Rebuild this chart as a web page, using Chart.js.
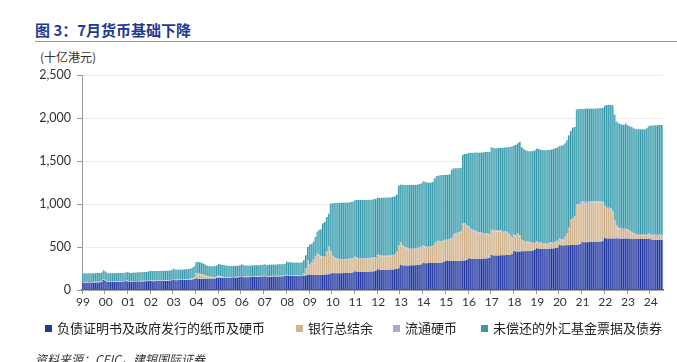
<!DOCTYPE html>
<html>
<head>
<meta charset="utf-8">
<script src="https://cdn.jsdelivr.net/npm/chart.js@4.4.1/dist/chart.umd.min.js"></script>
<style>
  body { margin: 0; background: #fff; font-family: "Noto Sans CJK SC", sans-serif; }
  #wrap { position: relative; width: 677px; height: 362px; overflow: hidden; }
  #title { position: absolute; left: 35px; top: 19px; font-size: 15px; font-weight: bold; color: #1d3a92; }
  #rule { position: absolute; left: 35px; right: 0; top: 41px; border-top: 1px solid #9297c9; }
  #unit { position: absolute; left: 40px; top: 48px; font-size: 12px; color: #333; }
  #legend { position: absolute; top: 319px; left: 0; width: 677px; height: 18px; font-size: 13px; color: #222; }
  #legend .item { position: absolute; top: 0; white-space: nowrap; line-height: 18px; }
  #legend .box { display: inline-block; width: 7px; height: 7px; margin-right: 5px; vertical-align: 1px; }
  #source { position: absolute; left: 35px; top: 350px; font-size: 12px; color: #333; font-style: italic; }
  canvas { position: absolute; left: 0; top: 0; }
</style>
</head>
<body>
<div id="wrap">
  <div id="title">图 3：7月货币基础下降</div>
  <div id="rule"></div>
  <div id="unit">(十亿港元)</div>
  <canvas id="baseChart" width="677" height="362"></canvas>
  <div id="legend"></div>
  <div id="source">资料来源：CEIC，建银国际证券</div>
</div>
<script>
// monthly data, Jan 1999 - Jul 2024 (HK$ bn)
const years = ["99","00","01","02","03","04","05","06","07","08","09","10","11","12",
  "13","14","15","16","17","18","19","20","21","22","23","24"];
const monthsInLastYear = 7;

const seriesNames = [
  "负债证明书及政府发行的纸币及硬币",
  "银行总结余",
  "流通硬币",
  "未偿还的外汇基金票据及债券"
];

const certificates = [
  86,85,85,86,86,86,87,87,88,90,94,116,
  104,97,96,96,96,96,97,97,97,98,99,104,
  100,97,97,98,98,99,99,100,100,101,102,108,
  106,103,103,104,104,105,105,106,106,107,108,113,
  122,114,114,115,115,116,116,117,118,119,121,128,
  136,130,130,131,131,132,132,132,133,133,134,140,
  146,141,141,142,142,143,143,144,144,145,146,151,
  156,148,148,149,149,150,150,150,151,152,153,158,
  160,154,154,155,155,156,156,157,157,158,159,163,
  168,162,162,162,163,163,164,164,165,166,170,176,
  180,174,174,175,175,176,177,178,179,181,184,190,
  200,194,194,195,195,196,197,197,198,199,201,206,
  218,210,210,211,211,212,213,213,214,215,217,224,
  240,233,233,234,234,235,236,237,238,240,243,252,
  290,284,284,285,285,286,287,288,289,290,292,298,
  318,312,312,313,313,314,315,316,317,318,320,326,
  342,336,336,337,337,338,339,340,341,342,344,350,
  368,360,360,361,361,362,363,364,365,366,368,375,
  408,400,400,401,402,403,404,405,406,408,410,418,
  455,448,448,449,450,451,452,453,454,456,460,470,
  485,478,478,479,479,480,481,482,483,484,487,495,
  525,518,518,519,520,521,522,523,524,526,528,535,
  560,555,555,556,557,558,559,560,561,562,564,572,
  605,598,598,599,600,600,601,600,599,598,598,600,
  598,592,592,592,592,592,593,593,593,592,592,598,
  590,582,582,582,583,584,585
];

const aggregateBalance = [
  2,2,2,2,2,2,2,2,2,2,2,5,
  3,2,1,1,1,1,1,1,1,1,1,1,
  1,1,1,1,1,1,1,1,1,1,1,1,
  1,1,1,1,1,1,1,1,1,1,1,1,
  1,1,1,1,1,1,1,1,2,5,12,15,
  50,55,52,48,40,30,22,18,14,12,12,14,
  14,12,8,4,2,2,2,2,2,2,2,2,
  2,2,2,2,2,2,2,2,2,2,2,2,
  2,2,2,2,2,2,2,2,2,2,2,2,
  2,2,2,2,2,2,2,2,2,20,80,158,
  110,135,170,210,240,225,205,200,205,255,320,255,
  190,175,165,160,158,156,155,154,155,158,160,158,
  160,155,152,150,150,150,150,150,152,152,152,150,
  160,158,158,156,156,156,156,156,160,170,200,260,
  255,230,210,200,195,192,190,190,190,192,195,195,
  190,185,180,180,185,190,220,245,245,240,240,240,
  240,245,250,260,300,310,315,320,330,420,425,390,
  360,340,330,320,310,300,295,290,285,283,280,260,
  290,285,282,280,280,278,270,262,260,240,210,185,
  180,178,200,175,130,110,105,100,95,90,85,76,
  70,68,62,55,54,54,54,58,60,62,64,66,
  60,55,60,95,130,200,290,300,320,455,457,457,
  457,457,457,457,457,457,457,457,457,457,450,445,
  370,355,345,340,300,200,140,115,105,100,100,100,
  95,85,80,55,50,45,45,45,45,45,45,45,
  48,48,48,47,46,46,45
];

const coins = [
  6,6,6,6,6,6,6,6,6,6,6,6,
  6,6,6,6,6,6,6,6,6,6,6,6,
  6,6,6,6,6,6,6,6,6,6,6,6,
  6,6,6,6,6,6,6,6,6,6,6,6,
  6,6,6,6,6,6,6,6,6,6,6,6,
  6,6,6,6,6,6,6,6,6,6,6,6,
  6,6,6,6,6,6,6,6,6,6,6,6,
  6,6,6,6,6,6,6,6,6,6,6,6,
  7,7,7,7,7,7,7,7,7,7,7,7,
  7,7,7,7,7,7,7,7,7,7,7,7,
  8,8,8,8,8,8,8,8,8,8,8,8,
  8,8,8,8,8,8,8,8,8,8,8,8,
  9,9,9,9,9,9,9,9,9,9,9,9,
  9,9,9,9,9,9,9,9,9,9,9,9,
  10,10,10,10,10,10,10,10,10,10,10,10,
  10,10,10,10,10,10,10,10,10,10,10,10,
  11,11,11,11,11,11,11,11,11,11,11,11,
  11,11,11,11,11,11,11,11,11,11,11,11,
  12,12,12,12,12,12,12,12,12,12,12,12,
  12,12,12,12,12,12,12,12,12,12,12,12,
  12,12,12,12,12,12,12,12,12,12,12,12,
  13,13,13,13,13,13,13,13,13,13,13,13,
  13,13,13,13,13,13,13,13,13,13,13,13,
  13,13,13,13,13,13,13,13,13,13,13,13,
  13,13,13,13,13,13,13,13,13,13,13,13,
  13,13,13,13,13,13,13
];

const exchangeFundBills = [
  102,101,100,100,100,100,100,101,101,101,101,102,
  102,95,93,92,93,93,93,94,94,94,94,95,
  99,98,98,98,99,99,100,100,101,101,102,102,
  111,110,110,110,111,111,112,112,112,112,112,112,
  121,116,116,116,116,116,117,117,118,120,123,126,
  130,137,134,131,128,124,120,120,122,125,128,127,
  136,137,137,136,135,132,131,130,129,129,129,128,
  136,131,130,129,129,128,129,129,129,129,129,128,
  131,132,132,132,132,132,132,132,132,133,134,134,
  155,153,151,149,148,147,146,147,149,157,148,159,
  232,218,213,227,257,291,315,389,403,406,378,552,
  612,635,646,652,654,656,656,658,657,655,653,658,
  658,672,675,677,677,676,676,676,675,676,677,677,
  666,674,674,676,677,676,676,676,673,671,658,694,
  673,701,718,725,730,734,735,735,736,736,735,737,
  747,748,748,745,742,741,755,754,758,767,768,764,
  747,750,748,792,767,756,751,747,738,802,800,834,
  856,885,896,906,916,926,931,935,941,944,947,962,
  950,953,954,955,956,959,969,979,982,1002,1033,1057,
  1033,1052,1045,1089,1068,1067,1056,1050,1051,1054,1058,1067,
  1078,1082,1080,1082,1080,1079,1081,1078,1079,1082,1087,1087,
  1077,1094,1099,1078,1077,1066,1025,1054,1038,1106,1107,1103,
  1078,1083,1085,1084,1083,1082,1082,1081,1081,1080,1086,1085,
  1157,1184,1199,1200,1235,1227,1206,1217,1213,1214,1209,1222,
  1209,1215,1210,1220,1220,1220,1217,1217,1219,1220,1230,1249,
  1261,1270,1272,1273,1275,1275,1275
];

// fill = lighter tone, left border = darker stripe
const fills   = ["#6c7cc3", "#e6d3b8", "#b3bbd6", "#82c3ce"];
const stripes = ["#1b2f9d", "#caa983", "#a3acca", "#2c93a5"];
const legendColors = ["#1f3a9a", "#d2b48e", "#a6aec8", "#3b9aa8"];

const labels = [];
years.forEach((yy, i) => {
  const n = i === years.length - 1 ? monthsInLastYear : 12;
  for (let m = 1; m <= n; m++) labels.push(yy + "-" + String(m).padStart(2, "0"));
});

const seriesData = [certificates, aggregateBalance, coins, exchangeFundBills];

const ctx = document.getElementById("baseChart").getContext("2d");
const chart = new Chart(ctx, {
  type: "bar",
  data: {
    labels: labels,
    datasets: seriesData.map((d, i) => ({
      label: seriesNames[i],
      data: d,
      backgroundColor: fills[i],
      borderColor: stripes[i],
      borderWidth: { left: 1, right: 0, top: 0, bottom: 0 },
      borderSkipped: false,
      barPercentage: 1,
      categoryPercentage: 1,
    })),
  },
  options: {
    responsive: false,
    animation: false,
    layout: { padding: { left: 35, right: 14, top: 75, bottom: 52 } },
    plugins: { legend: { display: false }, tooltip: { enabled: false } },
    scales: {
      x: {
        stacked: true,
        border: { color: "#555", width: 1.5 },
        grid: {
          drawOnChartArea: false,
          tickLength: 4,
          color: (c) => (c.tick && labels[c.index] && labels[c.index].endsWith("-01") ? "#999" : "rgba(0,0,0,0)"),
        },
        ticks: {
          autoSkip: false,
          maxRotation: 0,
          padding: 1,
          color: "#333",
          font: { family: "Lato", size: 12 },
          callback: (v, i) => (labels[i].endsWith("-01") ? labels[i].slice(0, 2) : ""),
        },
        afterFit: (s) => { s.height = 20; },
      },
      y: {
        stacked: true,
        min: 0,
        max: 2500,
        border: { color: "#999" },
        grid: {
          color: (c) => (c.tick && c.tick.value === 0 ? "rgba(0,0,0,0)" : "#ececec"),
          tickColor: "#999",
          tickLength: 5,
        },
        ticks: {
          stepSize: 500,
          padding: 6,
          color: "#333",
          font: { family: "Lato", size: 12.5 },
          callback: (v) => v.toLocaleString("en-US"),
        },
        afterFit: (s) => { s.width = 47; },
      },
    },
  },
});

// legend
const legendLeft = [45, 296, 393, 481];
const legendEl = document.getElementById("legend");
seriesNames.forEach((name, i) => {
  const item = document.createElement("div");
  item.className = "item";
  item.style.left = legendLeft[i] + "px";
  item.innerHTML = '<span class="box" style="background:' + legendColors[i] + '"></span>' + name;
  legendEl.appendChild(item);
});
</script>
</body>
</html>
